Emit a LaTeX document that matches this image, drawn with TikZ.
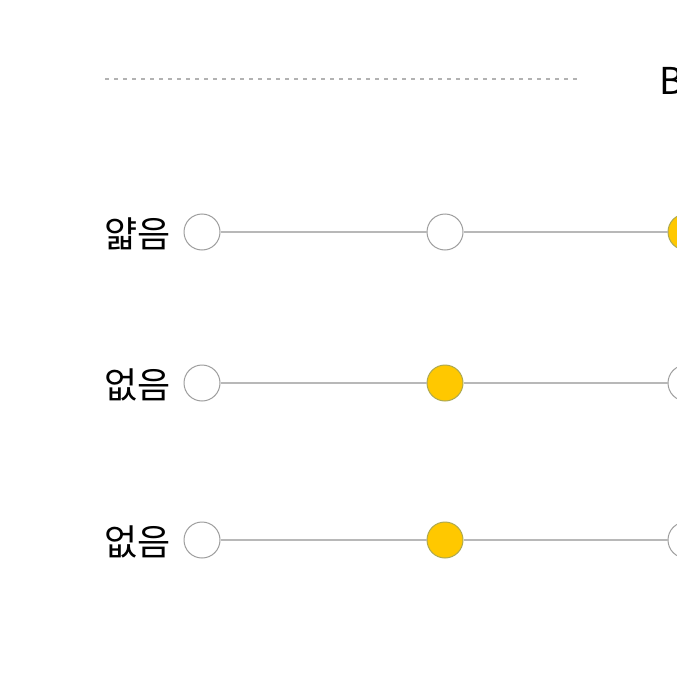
\documentclass[tikz,border=0pt]{standalone}
\usepackage{fontspec}
\setmainfont{Noto Sans CJK KR}
\begin{document}
\begin{tikzpicture}[x=1pt,y=-1pt,
  dot/.style={circle,draw=black!38,line width=1pt,fill=white,minimum size=36pt,inner sep=0pt},
  ondot/.style={dot,draw=yellow!60!black!90,fill={rgb,255:red,255;green,200;blue,0}},
  track/.style={draw=black!28,line width=1.4pt},
  lbl/.style={font=\fontsize{36}{38}\selectfont,anchor=east,inner sep=0pt}]
\useasboundingbox[fill=white] (0,0) rectangle (677,677);
\clip (0,0) rectangle (677,677);
\coordinate (dl) at (105,79);
\coordinate (dr) at (579,79);
\draw[draw=black!30,line width=1.3pt,dash pattern=on 4pt off 5pt] (dl) -- (dr);
\node[anchor=west,inner sep=0pt,font=\fontsize{37}{40}\selectfont] (B) at (659,81) {B};
% row 1
\node[dot] (a1) at (202,232) {};
\node[dot] (a2) at (445,232) {};
\node[ondot] (a3) at (686,232) {};
\draw[track] (a1) -- (a2);
\draw[track] (a2) -- (a3);
\node[lbl] (la) at (171,234) {얇음};
% row 2
\node[dot] (b1) at (202,383) {};
\node[ondot] (b2) at (445,383) {};
\node[dot] (b3) at (686,383) {};
\draw[track] (b1) -- (b2);
\draw[track] (b2) -- (b3);
\node[lbl] (lb) at (171,385) {없음};
% row 3
\node[dot] (c1) at (202,540) {};
\node[ondot] (c2) at (445,540) {};
\node[dot] (c3) at (686,540) {};
\draw[track] (c1) -- (c2);
\draw[track] (c2) -- (c3);
\node[lbl] (lc) at (171,542) {없음};
\end{tikzpicture}
\end{document}
